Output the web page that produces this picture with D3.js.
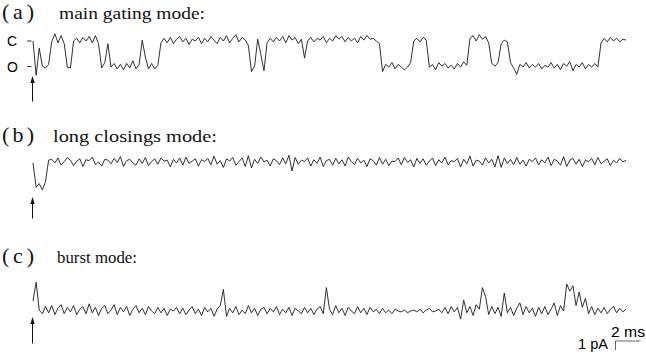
<!DOCTYPE html>
<html>
<head>
<meta charset="utf-8">
<script src="https://cdn.jsdelivr.net/npm/d3@7"></script>
<style>
  html, body { margin: 0; padding: 0; background: #fff; }
  svg { display: block; }
</style>
</head>
<body>
<div id="chart"></div>
<script>
// sampling interval of the traces (ms)
const dt = 0.25;

// (a) main gating mode, current in pA relative to closed level
const traceA = [
  0.0, -3.8, -0.8, -2.8, -3.0, -2.6, -0.1, 0.8, -0.2, 0.6,
  -0.3, -2.9, -3.0, 0.0, 0.3, -0.2, 0.4, 0.0, 0.5, -0.2,
  0.6, -0.3, -3.0, -2.4, -0.3, -2.9, -2.5, -3.1, -2.6, -3.2,
  -2.5, -3.0, -2.2, -3.1, -2.6, 0.1, -1.8, -3.1, -2.5, -3.1,
  -2.7, -0.2, 0.3, -0.2, 0.4, -0.3, 0.2, 0.5, -0.1, 0.3,
  -0.4, 0.2, 0.0, 0.4, -0.3, 0.3, -0.1, 0.5, 0.1, -0.3,
  0.4, 0.0, 0.6, -0.2, 0.3, 0.7, -0.1, 0.4, 0.1, -0.5,
  -3.4, -2.8, 0.2, -1.5, -3.3, -0.2, 0.3, -0.1, 0.4, 0.0,
  0.5, -0.2, 0.6, 0.1, 0.4, -0.3, 0.2, -1.9, 0.0, 0.4,
  -0.1, 0.3, 0.1, 0.5, -0.2, 0.3, 0.0, 0.6, 0.2, 0.5,
  -0.1, 0.4, 0.0, 0.3, -0.2, 0.5, 0.1, 0.6, 0.2, 0.3,
  0.0, -0.3, -3.4, -2.6, -2.9, -2.4, -3.1, -2.6, -2.9, -3.2,
  -2.9, -2.4, 0.0, 0.3, -0.1, 0.4, 0.1, -2.9, -2.6, -3.2,
  -2.4, -2.8, -2.5, -3.0, -2.7, -3.1, -2.5, -2.9, -2.3, -2.7,
  0.3, 0.6, 0.0, 0.7, 0.2, 0.5, -0.2, -2.5, -2.8, -2.4,
  -0.3, 0.1, -0.1, -2.4, -3.0, -3.7, -2.6, -2.9, -2.4, -3.0,
  -2.6, -2.9, -2.5, -3.1, -2.7, -2.9, -2.4, -3.0, -2.6, -3.2,
  -2.5, -2.8, -2.3, -3.3, -2.6, -2.9, -2.4, -3.1, -2.6, -2.9,
  -2.5, -2.9, -0.2, 0.3, -0.1, 0.4, 0.0, 0.3, -0.1, 0.2,
  0.1
];

// (b) long closings mode
const traceB = [
  -0.1, -2.8, -2.4, -3.1, -2.2, 0.2,
  0.3, -0.1, 0.45, -0.35, 0.05, 0.5, 0.2, -0.4, 0.1, 0.35,
  -0.5, 0.25, 0.15, 0.55, -0.3, 0.0, -0.45, 0.3, 0.2, -0.2,
  0.4, -0.05, 0.6, -0.5, 0.15, 0.3, -0.1, -0.35, 0.35, -0.15,
  0.5, -0.4, 0.05, 0.35, -0.25, 0.45, 0.1, 0.2, -0.55, 0.3,
  -0.1, 0.45, -0.35, 0.55, -0.15, 0.1, 0.35, -0.45, 0.25, 0.05,
  0.4, -0.3, 0.65, -0.25, 0.15, -0.6, 0.35, 0.1, 0.5, -0.35,
  0.05, 0.45, -0.5, 0.7, -0.65, 0.3, -0.15, 0.55, 0.0, 0.2,
  -0.45, 0.35, 0.15, -0.3, 0.45, -0.2, 0.75, -1.0, 0.5, -0.25,
  0.2, 0.05, 0.45, -0.45, 0.25, -0.15, 0.55, -0.5, 0.15, 0.3,
  -0.35, 0.4, -0.2, 0.25, -0.45, 0.55, 0.05, -0.3, 0.4, -0.1,
  0.2, -0.5, 0.35, 0.15, -0.35, 0.5, -0.25, 0.3, -0.4, 0.1,
  0.05, 0.45, -0.3, 0.5, -0.05, 0.25, -0.55, 0.4, -0.15, 0.35,
  -0.35, 0.1, 0.45, -0.4, 0.25, -0.1, 0.55, -0.3, 0.15, 0.05,
  0.4, -0.55, 0.3, -0.2, 0.65, -0.45, 0.2, 0.1, -0.35, 0.45,
  -0.1, 0.3, -0.55, 0.7, -0.6, 0.45, -0.2, 0.3, -0.3, 0.5,
  -0.25, 0.2, -0.45, 0.3, 0.05, 0.45, -0.3, 0.25, -0.1, 0.55,
  -0.4, 0.3, 0.1, -0.35, 0.6, -0.5, 0.2, 0.4, -0.25, 0.3,
  -0.5, 0.2, 0.05, 0.4, -0.3, 0.5, -0.2, 0.1, 0.35, -0.4,
  0.2, -0.1, 0.4, 0.0, 0.2
];

// (c) burst mode
const traceC = [
  1.1, 3.2, 0.1,
  -0.3, 0.5, -0.2, 0.6, -0.4, 0.3, 0.7, -0.3, 0.4, -0.1,
  0.6, -0.4, 0.2, 0.5, -0.3, 0.8, -0.2, 0.4, -0.5, 0.3,
  0.6, -0.3, 0.1, 0.7, -0.4, 0.4, -0.1, 0.5, -0.5, 0.2,
  0.6, -0.2, 0.3, -0.4, 0.5, 0.0, -0.3, 0.4, -0.2, 0.3,
  -0.5, 0.2, 0.0, 0.4, -0.3, 0.3, -0.4, 0.1, 0.5, -0.3,
  0.2, -0.5, 0.4, -0.1, 0.3, -0.6, 0.2, 0.6, 2.4, -0.6,
  0.3, -0.2, 0.5, -0.4, 0.1, -0.3, 0.6, -0.2, 0.3, -0.5,
  0.2, 0.4, -0.3, 0.3, -0.1, 0.5, -0.4, 0.2, -0.2, 0.4,
  -0.5, 0.3, 0.0, -0.3, 0.4, -0.2, 0.3, -0.4, 0.2, 0.5,
  -0.3, 2.6, 0.2, -0.4, 0.6, -0.2, 0.3, -0.5, 0.4, 0.0,
  -0.3, 0.5, -0.2, 0.3, -0.4, 0.4, -0.1, 0.2, -0.3, 0.3,
  -0.2, 0.1, -0.3, 0.2, 0.0, -0.1, 0.1, -0.2, 0.0, 0.1,
  -0.1, 0.2, -0.2, 0.1, 0.3, -0.1, 0.0, 0.2, -0.2, 0.4,
  -0.3, 0.5, -0.1, 0.4, -0.9, 1.2, -0.2, 0.5, -0.5, 0.7,
  0.2, 2.6, 1.6, -0.4, 0.5, -0.3, 0.4, -0.6, 2.0, -0.2,
  0.4, -0.5, 0.3, 0.9, -0.4, 0.5, -0.2, 0.3, -0.6, 0.4,
  -0.3, 0.5, -0.4, 0.2, 0.9, -0.5, 0.6, 0.0, 3.0, 2.2,
  2.8, 0.6, 2.1, 0.4, 1.4, -0.3, 0.5, -0.4, 0.3, -0.2,
  0.4, -0.3, 0.2, 0.5, -0.2, 0.3, -0.1, 0.2
];

const panelLabels = ['(a)', '(b)', '(c)'];
const panelTitles = ['main gating mode:', 'long closings mode:', 'burst mode:'];
const levelLabels = ['C', 'O'];
const levelValues = [0, -2.85];
const scaleBarMs = 2;
const scaleBarPA = 1;

const width = 646;
const height = 356;
const pxPerPA = 9;

const svg = d3.select('#chart')
  .append('svg')
  .attr('width', width)
  .attr('height', height);

const x = d3.scaleLinear().domain([0, 47.5]).range([33, 626]);

const panels = [
  { values: traceA, base: 41, labelY: 18.5, titleX: 59, titleW: 146, arrow: [101.5, 76] },
  { values: traceB, base: 162, labelY: 141.5, titleX: 53, titleW: 164, arrow: [218.5, 197] },
  { values: traceC, base: 311, labelY: 263, titleX: 57, titleW: 80, arrow: [343.5, 317] },
];

const serif = '"Liberation Serif", "Times New Roman", serif';
const sans = '"Liberation Sans", Arial, sans-serif';

panels.forEach((p, k) => {
  const y = d3.scaleLinear().domain([0, 1]).range([p.base, p.base - pxPerPA]);
  const g = svg.append('g');

  g.append('text')
    .attr('x', 2)
    .attr('y', p.labelY)
    .attr('font-family', serif)
    .attr('font-size', 22)
    .attr('textLength', 32)
    .attr('lengthAdjust', 'spacing')
    .attr('fill', '#111')
    .text(panelLabels[k]);

  g.append('text')
    .attr('x', p.titleX)
    .attr('y', p.labelY)
    .attr('font-family', serif)
    .attr('font-size', 17)
    .attr('textLength', p.titleW)
    .attr('lengthAdjust', 'spacingAndGlyphs')
    .attr('fill', '#111')
    .text(panelTitles[k]);

  const line = d3.line()
    .x((d, i) => x(i * dt))
    .y((d) => y(d));

  g.append('path')
    .datum(p.values)
    .attr('d', line)
    .attr('fill', 'none')
    .attr('stroke', '#1a1a1a')
    .attr('stroke-width', 0.9)
    .attr('stroke-linejoin', 'round');

  // stimulus arrow
  const ax = x(0) - 0.5;
  const [yBottom, yTop] = p.arrow;
  g.append('line')
    .attr('x1', ax).attr('x2', ax)
    .attr('y1', yBottom).attr('y2', yTop + 5)
    .attr('stroke', '#111')
    .attr('stroke-width', 1);
  g.append('path')
    .attr('d', `M${ax},${yTop} L${ax - 2.2},${yTop + 7} L${ax + 2.2},${yTop + 7} Z`)
    .attr('fill', '#111');

  // closed / open level marks on the first trace
  if (k === 0) {
    levelLabels.forEach((lab, j) => {
      const ly = y(levelValues[j]);
      g.append('text')
        .attr('x', 7)
        .attr('y', ly + 5)
        .attr('font-family', sans)
        .attr('font-size', 14)
        .attr('fill', '#000')
        .text(lab);
      g.append('line')
        .attr('x1', 27).attr('x2', 31.5)
        .attr('y1', ly).attr('y2', ly)
        .attr('stroke', '#333')
        .attr('stroke-width', 1);
    });
  }
});

// scale bar
const barX = 615.5;
const barY = 341;
const barW = x(scaleBarMs) - x(0);
const barH = scaleBarPA * pxPerPA;

svg.append('path')
  .attr('d', `M${barX + barW},${barY} L${barX},${barY} L${barX},${barY + barH}`)
  .attr('fill', 'none')
  .attr('stroke', '#666')
  .attr('stroke-width', 1);

svg.append('text')
  .attr('x', 611)
  .attr('y', 337)
  .attr('font-family', sans)
  .attr('font-size', 15)
  .attr('textLength', 34)
  .attr('lengthAdjust', 'spacingAndGlyphs')
  .attr('fill', '#000')
  .text(`${scaleBarMs} ms`);

svg.append('text')
  .attr('x', 578)
  .attr('y', 348.5)
  .attr('font-family', sans)
  .attr('font-size', 15)
  .attr('textLength', 30)
  .attr('lengthAdjust', 'spacingAndGlyphs')
  .attr('fill', '#000')
  .text(`${scaleBarPA} pA`);
</script>
</body>
</html>
